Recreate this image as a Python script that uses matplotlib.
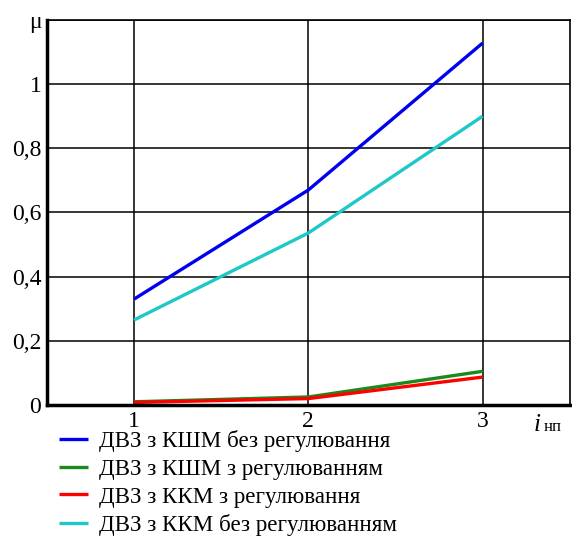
import matplotlib
matplotlib.use("Agg")
import matplotlib.pyplot as plt

plt.rcParams['font.family'] = ['Liberation Serif', 'DejaVu Serif']

x = [1, 2, 3]
kshm_bez = [0.33, 0.67, 1.128]
kshm_z = [0.01, 0.025, 0.105]
kkm_z = [0.008, 0.02, 0.087]
kkm_bez = [0.265, 0.536, 0.90]

labels = ['ДВЗ з КШМ без регулювання', 'ДВЗ з КШМ з регулюванням',
          'ДВЗ з ККМ з регулювання', 'ДВЗ з ККМ без регулюванням']
colors = ['#0000ee', '#1a8a1a', '#ff0000', '#1ec8c8']

yticks = [0, 0.2, 0.4, 0.6, 0.8, 1.0, 1.2]
ytick_labels = ['0', '0,2', '0,4', '0,6', '0,8', '1', 'μ']

fig = plt.figure(figsize=(5.72, 5.40), dpi=100)
ax = fig.add_axes([0.082, 0.25, 0.914, 0.713])

for ys, c, lab in zip([kshm_bez, kshm_z, kkm_z, kkm_bez], colors, labels):
    ax.plot(x, ys, color=c, lw=2.4, label=lab, solid_capstyle='butt')

ax.set_xlim(0.5, 3.5)
ax.set_ylim(0, 1.2)
ax.set_xticks(x)
ax.set_xticklabels(['1', '2', '3'])
ax.set_yticks(yticks)
ax.set_yticklabels(ytick_labels)
ax.tick_params(length=0, labelsize=17, pad=4)
ax.grid(True, color='black', lw=1.1)
ax.set_axisbelow(True)

for s in ['left', 'bottom']:
    ax.spines[s].set_linewidth(2.5)
for s in ['top', 'right']:
    ax.spines[s].set_linewidth(1.2)

fig.text(0.933, 0.202, 'i', fontsize=18, style='italic', ha='left', va='baseline')
fig.text(0.951, 0.202, 'нп', fontsize=12, ha='left', va='baseline')

fig.legend(loc='upper left', bbox_to_anchor=(0.103, 0.203), frameon=False,
           fontsize=16.6, handlelength=1.25, handletextpad=0.5, labelspacing=0.28,
           borderaxespad=0, borderpad=0)

fig.savefig('out.png', dpi=100)
